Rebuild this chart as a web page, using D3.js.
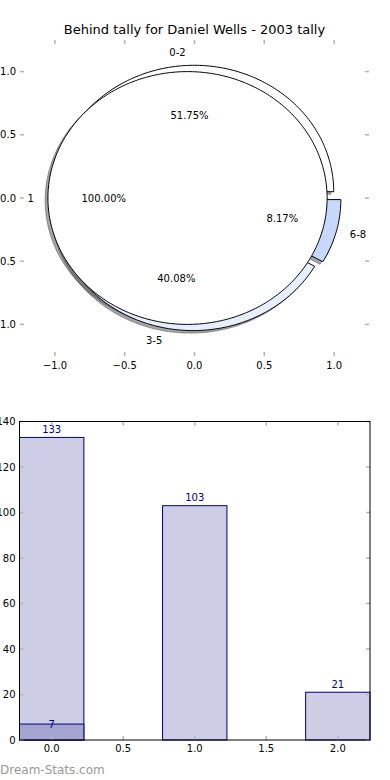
<!DOCTYPE html>
<html><head><meta charset="utf-8">
<script src="https://cdn.jsdelivr.net/npm/d3@7/dist/d3.min.js"></script>
<style>body{margin:0;background:#fff}svg{display:block;font-family:"DejaVu Sans",sans-serif}</style>
</head><body><svg id="c" width="390" height="780"></svg>
<script>
// ---- data ----
const titleText = "Behind tally for Daniel Wells - 2003 tally";
const pieCats = ["0-2", "3-5", "6-8"];
const pieCounts = [133, 103, 21];
const innerCats = ["1"];
const innerCounts = [7];
const pieTicks = [-1.0, -0.5, 0.0, 0.5, 1.0];
const barCats = [0, 1, 2];
const barValues = [133, 103, 21];
const overlayCats = [0];
const overlayValues = [7];
const barYTicks = [0, 20, 40, 60, 80, 100, 120, 140];
const barXTicks = [0.0, 0.5, 1.0, 1.5, 2.0];
const watermark = "Dream-Stats.com";

// ---- styles ----
const pieFill = ["#ffffff", "#e6eeff", "#c6d9fd"];
const innerFill = ["#ffffff"];
const tickColor = "#b4b4b4";
const barFill = "#cdcde6", overlayFill = "#a5a5d2", barEdge = "#000080";
const explode = 0.05, radius = 1.0;

const svg = d3.select("#c");
const fmt = v => (v < 0 ? "\u2212" : "") + Math.abs(v).toFixed(1);

// title
svg.append("text").attr("x", 194.5).attr("y", 29).attr("dy", "0.35em")
  .attr("text-anchor", "middle").attr("font-size", 13).text(titleText);

// ---- pie axes ----
const px = d3.scaleLinear().domain([-1.25, 1.25]).range([20, 369]);
const py = d3.scaleLinear().domain([-1.25, 1.25]).range([356, 40]);

function wedgePath(cx, cy, r, t1, t2, full) {
  const pts = [];
  const n = Math.max(8, Math.ceil((t2 - t1) / 1));
  for (let i = 0; i <= n; i++) {
    const t = (t1 + (t2 - t1) * i / n) * Math.PI / 180;
    pts.push([px(cx + r * Math.cos(t)), py(cy + r * Math.sin(t))]);
  }
  let d = "";
  if (!full) d += "M" + px(cx) + "," + py(cy) + "L";
  else d += "M";
  d += pts.map(p => p[0].toFixed(2) + "," + p[1].toFixed(2)).join("L") + "Z";
  return d;
}

function buildPie(cats, counts) {
  const total = d3.sum(counts);
  let a = 0;
  return cats.map((c, i) => {
    const frac = counts[i] / total;
    const t1 = a, t2 = a + frac * 360; a = t2;
    const tm = (t1 + t2) / 2 * Math.PI / 180;
    const cx = explode * Math.cos(tm), cy = explode * Math.sin(tm);
    return {cat: c, frac, t1, t2, tm, cx, cy, full: frac >= 0.99999};
  });
}
const outer = buildPie(pieCats, pieCounts);
const inner = buildPie(innerCats, innerCounts);
const all = outer.map((w, i) => ({...w, fill: pieFill[i]}))
  .concat(inner.map((w, i) => ({...w, fill: innerFill[i]})));

const gp = svg.append("g");
// shadows first
all.forEach(w => {
  gp.append("path").attr("d", wedgePath(w.cx - 0.02, w.cy - 0.02, radius, w.t1, w.t2, w.full))
    .attr("fill", "#4d4d4d").attr("fill-opacity", 0.5).attr("stroke", "#4d4d4d")
    .attr("stroke-opacity", 0.5).attr("stroke-width", 1);
});
all.forEach(w => {
  gp.append("path").attr("d", wedgePath(w.cx, w.cy, radius, w.t1, w.t2, w.full))
    .attr("fill", w.fill).attr("stroke", "#000").attr("stroke-width", 1)
    .attr("stroke-linejoin", "miter");
});
// labels
all.forEach(w => {
  const lx = w.cx + 1.1 * radius * Math.cos(w.tm), ly = w.cy + 1.1 * radius * Math.sin(w.tm);
  gp.append("text").attr("x", px(lx)).attr("y", py(ly)).attr("dy", "0.35em")
    .attr("text-anchor", lx > 0 ? "start" : "end").attr("font-size", 10).text(w.cat);
  const tx = w.cx + 0.6 * radius * Math.cos(w.tm), ty = w.cy + 0.6 * radius * Math.sin(w.tm);
  gp.append("text").attr("x", px(tx)).attr("y", py(ty)).attr("dy", "0.35em")
    .attr("text-anchor", "middle").attr("font-size", 10).text((w.frac * 100).toFixed(2) + "%");
});
// pie ticks (no spines)
const tl = 4;
pieTicks.forEach(t => {
  gp.append("line").attr("x1", px(t)).attr("x2", px(t)).attr("y1", py.range()[0]).attr("y2", py.range()[0] - tl)
    .attr("stroke", tickColor).attr("stroke-width", 1.5);
  gp.append("line").attr("x1", px(t)).attr("x2", px(t)).attr("y1", py.range()[1]).attr("y2", py.range()[1] + tl)
    .attr("stroke", tickColor).attr("stroke-width", 1.5);
  gp.append("line").attr("y1", py(t)).attr("y2", py(t)).attr("x1", px.range()[0]).attr("x2", px.range()[0] + tl)
    .attr("stroke", tickColor).attr("stroke-width", 1.5);
  gp.append("line").attr("y1", py(t)).attr("y2", py(t)).attr("x1", px.range()[1]).attr("x2", px.range()[1] - tl)
    .attr("stroke", tickColor).attr("stroke-width", 1.5);
  gp.append("text").attr("x", px(t)).attr("y", py.range()[0] + 9).attr("dy", "0.35em")
    .attr("text-anchor", "middle").attr("font-size", 10).text(fmt(t));
  gp.append("text").attr("x", px.range()[0] - 4).attr("y", py(t)).attr("dy", "0.35em")
    .attr("text-anchor", "end").attr("font-size", 10).text(fmt(t));
});

// ---- bar axes ----
const bw = 0.45;
const bx = d3.scaleLinear().domain([-bw / 2, 2 + bw / 2]).range([19.5, 370]);
const by = d3.scaleLinear().domain([0, 140]).range([740, 421.5]);
const gb = svg.append("g");
gb.selectAll("rect.b").data(barCats).join("rect")
  .attr("x", (d) => bx(d - bw / 2)).attr("width", bx(bw) - bx(0))
  .attr("y", (d, i) => by(barValues[i])).attr("height", (d, i) => by(0) - by(barValues[i]))
  .attr("fill", barFill).attr("stroke", barEdge).attr("stroke-width", 1);
gb.selectAll("rect.o").data(overlayCats).join("rect")
  .attr("x", (d) => bx(d - bw / 2)).attr("width", bx(bw) - bx(0))
  .attr("y", (d, i) => by(overlayValues[i])).attr("height", (d, i) => by(0) - by(overlayValues[i]))
  .attr("fill", overlayFill).attr("stroke", barEdge).attr("stroke-width", 1);
barCats.forEach((c, i) => {
  gb.append("text").attr("x", bx(c)).attr("y", by(barValues[i] + 2))
    .attr("text-anchor", "middle").attr("font-size", 10).attr("fill", barEdge).text(barValues[i]);
});
overlayCats.forEach((c, i) => {
  gb.append("text").attr("x", bx(c)).attr("y", by(overlayValues[i])).attr("dy", "0.35em")
    .attr("text-anchor", "middle").attr("font-size", 10).attr("fill", barEdge).text(overlayValues[i]);
});
// ticks
const [x0, x1] = bx.range(), [y0, y1] = by.range();
barYTicks.forEach(t => {
  gb.append("line").attr("x1", x0).attr("x2", x0 + tl).attr("y1", by(t)).attr("y2", by(t)).attr("stroke", tickColor).attr("stroke-width", 1.5);
  gb.append("line").attr("x1", x1).attr("x2", x1 - tl).attr("y1", by(t)).attr("y2", by(t)).attr("stroke", tickColor).attr("stroke-width", 1.5);
  gb.append("text").attr("x", x0 - 4).attr("y", by(t)).attr("dy", "0.35em").attr("text-anchor", "end")
    .attr("font-size", 10).text(t);
});
barXTicks.forEach(t => {
  gb.append("line").attr("x1", bx(t)).attr("x2", bx(t)).attr("y1", y0).attr("y2", y0 - tl).attr("stroke", tickColor).attr("stroke-width", 1.5);
  gb.append("line").attr("x1", bx(t)).attr("x2", bx(t)).attr("y1", y1).attr("y2", y1 + tl).attr("stroke", tickColor).attr("stroke-width", 1.5);
  gb.append("text").attr("x", bx(t)).attr("y", y0 + 8).attr("dy", "0.35em").attr("text-anchor", "middle")
    .attr("font-size", 10).text(t.toFixed(1));
});
gb.append("rect").attr("x", x0).attr("y", y1).attr("width", x1 - x0).attr("height", y0 - y1)
  .attr("fill", "none").attr("stroke", "#000").attr("stroke-width", 1);

svg.append("text").attr("x", 0).attr("y", 770).attr("dy", "0.35em").attr("font-size", 12)
  .attr("fill", "#999").text(watermark);
</script></body></html>
